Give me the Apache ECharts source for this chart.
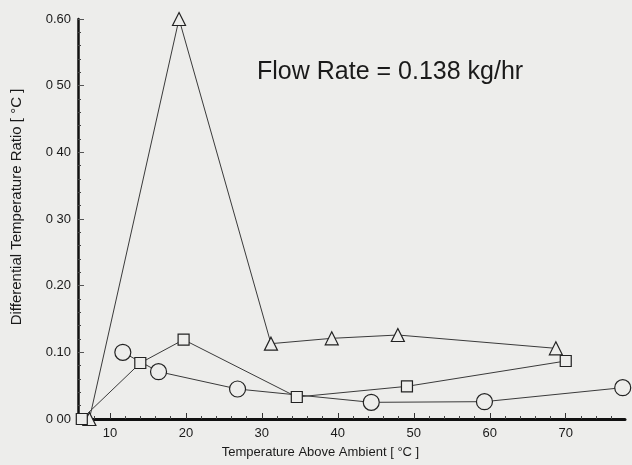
<!DOCTYPE html>
<html>
<head>
<meta charset="utf-8">
<script src="https://cdn.jsdelivr.net/npm/echarts@6/dist/echarts.min.js"></script>
<style>
html,body{margin:0;padding:0;background:#ededeb;}
#c{width:632px;height:465px;}
</style>
</head>
<body>
<div id="c"></div>
<script>
// Data
var triX = [7.3, 19.1, 31.2, 39.2, 47.9, 68.7];
var triY = [0.000, 0.600, 0.113, 0.121, 0.126, 0.106];
var sqX = [6.3, 14.0, 19.7, 34.6, 49.1, 70.0];
var sqY = [0.000, 0.084, 0.119, 0.033, 0.049, 0.087];
var cirX = [11.7, 16.4, 26.8, 44.4, 59.3, 77.5];
var cirY = [0.100, 0.071, 0.045, 0.025, 0.026, 0.047];
var xMajorTicks = [10, 20, 30, 40, 50, 60, 70];
var xMinorTicks = [8, 12, 14, 16, 18, 22, 24, 26, 28, 32, 34, 36, 38, 42, 44, 46, 48, 52, 54, 56, 58, 62, 64, 66, 68, 72, 74, 76];
var yTickLabels = ["0 00", "0.10", "0.20", "0 30", "0 40", "0 50", "0.60"];
var titleText = "Flow Rate = 0.138 kg/hr";
var xName = "Temperature Above Ambient [ °C ]";
var yName = "Differential Temperature Ratio [ °C ]";

function pairs(xs, ys){ return xs.map(function(x,i){ return [x, ys[i]]; }); }

var bg = '#ededeb';
var ink = '#1a1a1a';
var font = 'Liberation Sans, Arial, Helvetica, sans-serif';

var chart = echarts.init(document.getElementById('c'), null, {renderer:'canvas'});
function ser(name, xs, ys, sym, size){
  return {
    name: name, type: 'line', data: pairs(xs, ys),
    symbol: sym, symbolSize: size, showSymbol: true,
    lineStyle: {color: '#3a3a3a', width: 1},
    itemStyle: {color: bg, borderColor: '#222', borderWidth: 1.2},
    z: 3, animation: false
  };
}
chart.setOption({
  backgroundColor: bg,
  animation: false,
  grid: {left: 78, right: 7, top: 19, bottom: 46},
  graphic: [{
    type: 'text', left: 257, top: 60,
    style: {text: titleText, fontSize: 25, fontFamily: font, fill: ink}
  }],
  xAxis: [{
    type: 'value', min: 5.8, max: 77.8,
    name: xName, nameLocation: 'middle', nameGap: 27,
    nameTextStyle: {fontSize: 13, fontFamily: font, color: ink, padding: [0, 62, 0, 0]},
    axisLine: {show: true, onZero: false, lineStyle: {color: '#111', width: 3}},
    axisTick: {show: true, inside: true, length: 6, customValues: xMajorTicks, lineStyle: {color: '#333', width: 1}},
    axisLabel: {show: true, customValues: xMajorTicks, fontSize: 13, fontFamily: font, color: ink, margin: 8},
    splitLine: {show: false}
  }, {
    type: 'value', min: 5.8, max: 77.8, position: 'bottom',
    axisLine: {show: false},
    axisTick: {show: true, inside: true, length: 3, customValues: xMinorTicks, lineStyle: {color: '#444', width: 1}},
    axisLabel: {show: false},
    splitLine: {show: false}
  }],
  yAxis: {
    type: 'value', min: 0, max: 0.6, interval: 0.1,
    name: yName, nameLocation: 'middle', nameGap: 54, nameRotate: 90,
    nameTextStyle: {fontSize: 15, fontFamily: font, color: ink, padding: [0, 0, 0, 24]},
    axisLine: {show: true, onZero: false, lineStyle: {color: '#111', width: 2.5}},
    axisTick: {show: true, inside: true, length: 6, lineStyle: {color: '#555', width: 1}},
    minorTick: {show: true, splitNumber: 5, length: 3, lineStyle: {color: '#444', width: 1}},
    axisLabel: {fontSize: 13, fontFamily: font, color: ink, margin: 7,
      formatter: function(v, i){ return yTickLabels[Math.round(v*10)]; }},
    splitLine: {show: false}
  },
  series: [
    ser('triangle', triX, triY, 'triangle', 13),
    ser('square', sqX, sqY, 'rect', 11),
    ser('circle', cirX, cirY, 'circle', 16)
  ]
});
</script>
</body>
</html>
